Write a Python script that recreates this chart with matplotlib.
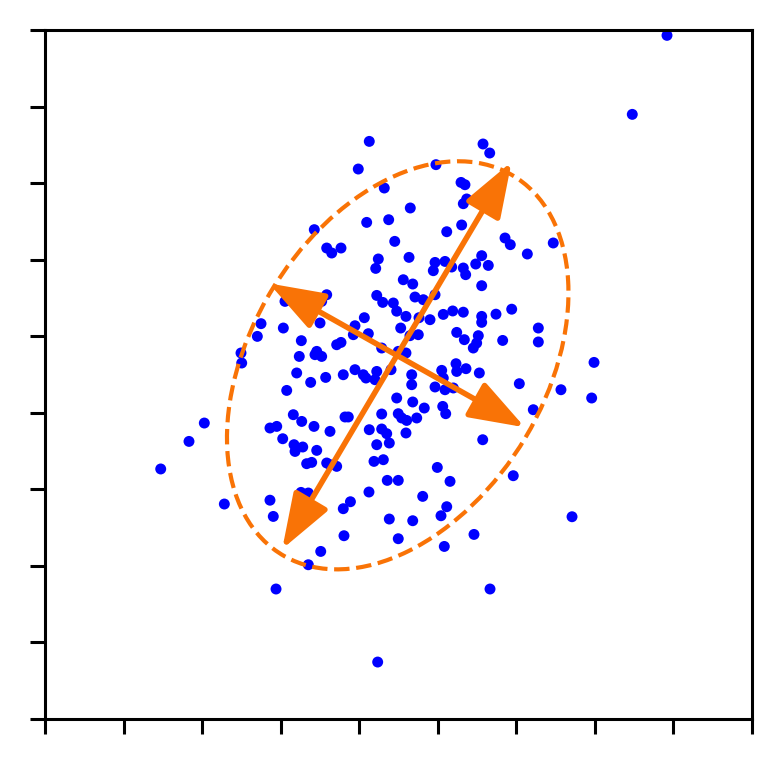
import numpy as np
import matplotlib
matplotlib.use("Agg")
import matplotlib.pyplot as plt
from matplotlib.patches import Ellipse

# ---- data ----
x_vals = [3.418, 2.976, 1.970, 1.640, -0.372, -0.512, 1.076, 1.161, 0.477, -0.181,
          0.796, 0.846, 0.868, 0.825, 0.150, -0.405, -0.125, 0.804, 0.614, -0.732,
          -0.850, -0.914, -0.048, 1.356, 1.423, -0.257, -0.290, 0.134, 0.465, 0.592,
          0.443, 0.677, 1.059, 0.983, 1.143, 0.825, 0.855, 0.061, 0.181, 1.059,
          -0.277, -0.201, -0.066, -0.023, 0.210, 0.316, 0.465, 0.095, 0.261, 0.401,
          0.570, 0.690, 0.825, 1.059, 1.059, 1.241, 1.441, -0.435, -1.072, -0.914,
          -0.978, -1.445, -0.554, -0.575, -0.384, -0.787, -0.732, 0.028, 0.146, 0.252,
          0.741, 0.838, 1.016, 0.995, 0.952, 1.326, -0.214, -0.003, 0.095, -0.703,
          -0.554, -0.448, -0.414, -0.277, -0.299, -0.095, 0.168, 0.168, 0.550, 0.570,
          0.732, 0.741, 0.859, 1.029, 1.538, 0.465, 0.592, 0.698, -0.023, 0.181,
          0.328, 0.563, 0.601, -0.214, -0.681, -0.639, -0.003, 0.041, 0.104, 0.232,
          -0.872, -0.372, -0.214, -0.150, -0.117, 0.095, -0.277, -0.312, -0.193, 1.072,
          -0.787, -0.872, 0.494, 0.656, 1.461, -0.143, -0.003, -0.376, 0.308, -0.612,
          -0.703, 0.614, 0.541, -0.117, 0.181, -0.694, -0.003, 0.583, 0.961, 1.165,
          -0.265, -2.217, -1.636, -1.263, -1.594, -0.990, -1.148, -1.559, -1.750, -1.797,
          -1.466, -0.999, -1.237, -1.263, -1.041, -0.978, -1.063, -2.005, -1.996, -1.296,
          -1.118, -0.927, -1.423, -1.339, -1.232, -1.076, -1.636, -1.550, -1.474, -1.330,
          -1.219, -1.317, -1.041, -1.169, -1.105, -0.914, -2.472, -2.667, -3.027, -1.241,
          -1.148, 1.780, 1.780, 2.489, 2.068, 2.459, 1.716, 2.209]
y_vals = [4.430, 3.398, 1.718, 1.574, 3.045, 2.684, 3.011, 2.893, 2.741, 2.436,
          2.509, 2.479, 2.293, 2.231, 2.175, 1.987, 2.022, 1.953, 1.865, 1.652,
          1.587, 1.652, 1.739, 1.783, 1.696, 1.509, 1.386, 1.530, 1.464, 1.477,
          1.356, 1.404, 1.552, 1.443, 1.425, 1.391, 1.304, 1.238, 1.182, 1.160,
          1.033, 0.942, 0.934, 0.827, 1.012, 0.977, 1.042, 0.759, 0.742, 0.716,
          0.785, 0.830, 0.814, 0.759, 0.681, 0.788, 0.853, 0.742, 1.892, 1.042,
          0.955, 0.955, 0.637, 0.520, 0.533, 0.389, 0.419, 0.607, 0.507, 0.520,
          0.550, 0.455, 0.507, 0.411, 0.346, 0.445, 0.346, 0.302, 0.281, -0.003,
          0.063, -0.003, -0.046, 0.040, -0.068, 0.063, -0.003, -0.133, 0.054, -0.046,
          0.141, 0.040, 0.076, 0.020, -0.120, -0.163, -0.199, -0.176, -0.307, -0.359,
          -0.438, -0.417, -0.512, -0.516, -0.555, -0.555, -0.512, -0.568, -0.600, -0.568,
          -0.743, -0.721, -0.712, -0.773, -0.895, -0.764, -0.917, -1.135, -1.113, -0.852,
          -1.200, -1.178, -1.214, -1.396, -1.322, -1.383, -1.383, -1.535, -1.592, -1.662,
          -1.753, -1.727, -1.845, -1.888, -1.910, -2.106, -2.145, -2.246, -2.089, -2.802,
          -3.756, -1.692, -1.642, -1.649, -1.854, -2.311, -2.485, -2.802, 0.664, 0.498,
          0.607, 0.673, 0.442, 0.236, 0.302, 0.236, 0.259, 0.281, 0.150, 0.020,
          -0.103, -0.038, -0.208, -0.525, -0.613, -0.678, -0.699, -0.678, -0.839, -0.917,
          -0.947, -1.005, -0.991, -1.165, -1.148, -1.156, -0.634, -0.874, -1.234, -1.540,
          -1.548, 0.607, 0.425, 0.158, -0.199, -0.307, -0.460, -1.858]

# ellipse (covariance contour)
ellipse_center = (-0.01, 0.12)
ellipse_width = 5.76
ellipse_height = 3.76
ellipse_angle = 60.0

# principal-axis arrows
arrow_center = (-0.02, 0.25)
major_half_length = 2.92
minor_half_length = 1.88
major_angle_deg = 60.0

axis_limits = (-4.5, 4.5)
tick_values = np.arange(-4.5, 4.6, 1.0)

# ---- styling ----
point_color = "blue"
accent = "#f97306"

fig = plt.figure(figsize=(7.83, 7.65), dpi=100)
ax = fig.add_axes([45 / 783, 1 - 719 / 765, 707 / 783, 689 / 765])

ax.scatter(x_vals, y_vals, s=62, color=point_color, edgecolors="none", zorder=2)

ell = Ellipse(ellipse_center, ellipse_width, ellipse_height, angle=ellipse_angle,
              fill=False, edgecolor=accent, linewidth=3, linestyle="--", zorder=3)
ax.add_patch(ell)

def draw_double_arrow(center, half_len, ang_deg):
    t = np.deg2rad(ang_deg)
    dx, dy = half_len * np.cos(t), half_len * np.sin(t)
    start = (center[0] - dx, center[1] - dy)
    end = (center[0] + dx, center[1] + dy)
    ax.annotate("", xy=end, xytext=start,
                arrowprops=dict(arrowstyle="<|-|>,head_length=3.4,head_width=1.2",
                                mutation_scale=10, color=accent, lw=4,
                                shrinkA=0, shrinkB=0),
                zorder=4)

draw_double_arrow(arrow_center, major_half_length, major_angle_deg)
draw_double_arrow(arrow_center, minor_half_length, major_angle_deg - 90)

ax.set_xlim(*axis_limits)
ax.set_ylim(*axis_limits)
ax.set_xticks(tick_values)
ax.set_yticks(tick_values)
ax.set_xticklabels([])
ax.set_yticklabels([])
ax.tick_params(direction="out", length=10.8, width=2.2, color="black")
for sp in ax.spines.values():
    sp.set_linewidth(2.2)

fig.savefig("out.png", dpi=100)
